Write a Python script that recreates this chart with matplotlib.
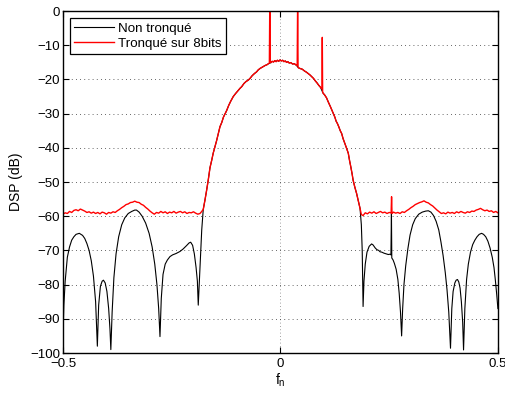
import numpy as np
import matplotlib
matplotlib.use("Agg")
import matplotlib.pyplot as plt

plt.rcParams['font.family'] = ['Liberation Sans', 'DejaVu Sans']
plt.rcParams['font.size'] = 9.5

# main lobe (common to both curves)
x_lobe = [-0.1775, -0.1736, -0.170, -0.166, -0.162, -0.158, -0.1545, -0.1506, -0.147, -0.143,
          -0.139, -0.135, -0.131, -0.1275, -0.1237, -0.119, -0.1145, -0.1085, -0.103, -0.097,
          -0.093, -0.089, -0.084, -0.079, -0.074, -0.070, -0.065, -0.060, -0.055, -0.051,
          -0.047, -0.043, -0.039, -0.035, -0.031, -0.0275, -0.022, -0.019, -0.016, -0.013,
          -0.010, -0.007, -0.004, -0.001, 0.002, 0.005, 0.008, 0.011, 0.014, 0.017,
          0.020, 0.024, 0.028, 0.032, 0.036, 0.0415, 0.045, 0.050, 0.055, 0.060,
          0.065, 0.068, 0.072, 0.076, 0.080, 0.084, 0.088, 0.092, 0.098, 0.102,
          0.106, 0.110, 0.115, 0.1214, 0.125, 0.128, 0.131, 0.134, 0.1375, 0.1407,
          0.144, 0.148, 0.152, 0.156, 0.159, 0.162, 0.165, 0.167, 0.171, 0.175,
          0.179, 0.183]
y_lobe = [-58.0, -55.3, -52.6, -49.4, -45.8, -43.6, -41.5, -39.7, -38.0, -35.9,
          -33.8, -32.6, -31.0, -30.1, -29.1, -27.6, -26.4, -25.0, -24.1, -23.2,
          -22.6, -22.1, -21.2, -20.6, -20.2, -19.7, -18.9, -18.3, -17.8, -17.2,
          -16.8, -16.5, -16.2, -15.9, -15.7, -15.4, -15.1, -14.7, -14.9, -14.5,
          -14.8, -14.4, -14.7, -14.3, -14.6, -14.4, -14.8, -14.6, -15.0, -14.8,
          -15.2, -15.1, -15.5, -15.4, -15.8, -16.6, -16.8, -17.0, -17.5, -17.9,
          -18.4, -18.7, -19.2, -19.7, -20.4, -21.0, -21.7, -22.3, -24.0, -24.6,
          -25.4, -26.6, -28.0, -29.9, -31.0, -32.2, -32.9, -33.8, -35.0, -35.8,
          -37.3, -38.7, -40.1, -41.6, -43.8, -45.7, -47.8, -49.4, -51.5, -53.3,
          -55.5, -57.7]

# sidelobes of the non truncated filter
x_left_nt = [-0.500, -0.498, -0.495, -0.490, -0.485, -0.480, -0.475, -0.470, -0.4625, -0.455,
             -0.450, -0.445, -0.440, -0.435, -0.430, -0.425, -0.421, -0.418, -0.414, -0.410,
             -0.407, -0.403, -0.399, -0.395, -0.392, -0.390, -0.387, -0.383, -0.378, -0.372,
             -0.365, -0.358, -0.350, -0.342, -0.335, -0.331, -0.325, -0.318, -0.310, -0.302,
             -0.295, -0.289, -0.284, -0.280, -0.277, -0.274, -0.270, -0.265, -0.260, -0.254,
             -0.248, -0.240, -0.231, -0.224, -0.216, -0.210, -0.2064, -0.202, -0.198, -0.194,
             -0.191, -0.189, -0.1845, -0.181]
y_left_nt = [-95.0, -86.0, -79.0, -72.0, -69.0, -67.0, -66.0, -65.3, -65.0, -65.6,
             -66.5, -68.0, -70.0, -73.0, -77.5, -85.0, -98.0, -86.0, -80.5, -79.0,
             -78.7, -79.5, -82.0, -87.0, -93.0, -99.0, -88.0, -78.0, -71.0, -66.0,
             -62.5, -60.5, -59.2, -58.6, -58.2, -58.2, -58.8, -60.0, -62.0, -65.0,
             -69.0, -74.0, -80.0, -87.0, -95.2, -84.0, -77.0, -74.0, -72.8, -71.8,
             -71.3, -70.9, -70.3, -69.6, -68.6, -67.8, -67.6, -68.5, -71.0, -75.0,
             -79.0, -86.0, -73.8, -64.0]
x_right_nt = [0.186, 0.188, 0.190, 0.192, 0.195, 0.199, 0.204, 0.2096, 0.213, 0.218,
              0.222, 0.226, 0.229, 0.233, 0.238, 0.243, 0.248, 0.2517, 0.254, 0.2552,
              0.2560, 0.259, 0.262, 0.266, 0.270, 0.273, 0.276, 0.2786, 0.281, 0.284,
              0.288, 0.293, 0.298, 0.304, 0.310, 0.318, 0.326, 0.334, 0.340, 0.346,
              0.352, 0.358, 0.364, 0.369, 0.374, 0.379, 0.383, 0.387, 0.391, 0.394,
              0.397, 0.401, 0.404, 0.407, 0.410, 0.413, 0.416, 0.419, 0.421, 0.424,
              0.428, 0.432, 0.437, 0.442, 0.447, 0.452, 0.457, 0.4625, 0.467, 0.472,
              0.477, 0.482, 0.487, 0.491, 0.494, 0.497, 0.500]
y_right_nt = [-62.5, -70.0, -86.4, -79.0, -74.0, -70.5, -68.8, -68.1, -68.4, -69.3,
              -69.8, -70.0, -70.4, -70.5, -70.8, -71.0, -71.2, -71.1, -71.3, -59.0,
              -72.2, -72.8, -73.8, -75.5, -78.5, -82.5, -88.0, -95.0, -87.0, -80.0,
              -74.5, -69.5, -65.5, -62.5, -60.7, -59.4, -58.8, -58.5, -58.4, -58.8,
              -59.8, -61.5, -64.0, -67.5, -71.5, -76.5, -81.5, -88.0, -98.6, -87.0,
              -82.0, -79.5, -78.7, -78.5, -79.2, -81.0, -85.0, -91.0, -99.1, -87.0,
              -78.5, -74.0, -70.5, -68.3, -67.0, -66.0, -65.3, -65.0, -65.3, -66.0,
              -67.3, -69.3, -72.0, -75.0, -78.5, -82.5, -87.0]

# quantisation noise floor of the 8 bit version
x_left_tr = [-0.500, -0.495, -0.490, -0.485, -0.480, -0.475, -0.470, -0.465, -0.460, -0.455,
             -0.450, -0.445, -0.440, -0.435, -0.430, -0.425, -0.420, -0.415, -0.410, -0.405,
             -0.400, -0.395, -0.390, -0.385, -0.380, -0.375, -0.370, -0.365, -0.360, -0.355,
             -0.350, -0.345, -0.340, -0.335, -0.330, -0.325, -0.320, -0.315, -0.310, -0.305,
             -0.300, -0.295, -0.290, -0.285, -0.280, -0.275, -0.270, -0.265, -0.260, -0.255,
             -0.250, -0.245, -0.240, -0.235, -0.230, -0.225, -0.220, -0.215, -0.210, -0.205,
             -0.200, -0.195, -0.190, -0.185, -0.181]
y_left_tr = [-59.4, -59.0, -59.2, -58.6, -58.9, -58.3, -58.1, -58.4, -57.9, -58.2,
             -58.5, -58.9, -58.7, -59.1, -58.8, -59.2, -58.9, -59.3, -58.8, -59.0,
             -59.4, -58.9, -59.1, -58.7, -58.9, -58.4, -58.0, -57.5, -57.1, -56.6,
             -56.4, -56.0, -55.9, -55.6, -55.9, -56.0, -56.5, -56.8, -57.4, -57.9,
             -58.5, -59.0, -59.4, -58.9, -59.1, -58.6, -59.0, -58.7, -59.2, -58.8,
             -59.0, -58.6, -59.1, -58.8, -58.6, -59.0, -58.7, -59.2, -58.9, -59.0,
             -58.7, -59.1, -59.4, -59.2, -58.6]
x_right_tr = [0.186, 0.190, 0.195, 0.200, 0.205, 0.210, 0.215, 0.220, 0.225, 0.230,
              0.235, 0.240, 0.245, 0.250, 0.2545, 0.2555, 0.2565, 0.260, 0.265, 0.270,
              0.275, 0.280, 0.285, 0.290, 0.295, 0.300, 0.305, 0.310, 0.315, 0.320,
              0.325, 0.330, 0.335, 0.340, 0.345, 0.350, 0.355, 0.360, 0.365, 0.370,
              0.375, 0.380, 0.385, 0.390, 0.395, 0.400, 0.405, 0.410, 0.415, 0.420,
              0.425, 0.430, 0.435, 0.440, 0.445, 0.450, 0.455, 0.460, 0.465, 0.470,
              0.475, 0.480, 0.485, 0.490, 0.495, 0.500]
y_right_tr = [-59.5, -59.8, -59.0, -59.3, -58.8, -59.1, -58.7, -59.2, -58.9, -58.6,
              -59.0, -58.8, -59.2, -58.9, -59.0, -54.3, -59.2, -58.8, -59.1, -58.9,
              -59.2, -58.7, -58.9, -58.4, -58.0, -57.5, -57.1, -56.6, -56.3, -56.0,
              -55.8, -55.5, -55.9, -56.1, -56.6, -57.0, -57.6, -58.2, -58.7, -59.2,
              -59.0, -59.3, -58.8, -59.1, -58.9, -59.2, -58.7, -59.0, -58.6, -58.9,
              -59.1, -58.7, -58.9, -58.5, -58.6, -58.2, -58.0, -57.7, -58.1, -58.4,
              -58.2, -58.6, -58.4, -58.9, -58.6, -59.0]

# spurious lines in the passband of the 8 bit version
x_spikes = [-0.0255, -0.0245, -0.0235, 0.0385, 0.0395, 0.0405, 0.0955, 0.0962, 0.0970]
y_spikes = [-15.2, 3.0, -14.9, -15.9, 3.0, -16.5, -22.8, -7.7, -23.8]


x_nt = np.concatenate([x_left_nt, x_lobe, x_right_nt])
y_nt = np.concatenate([y_left_nt, y_lobe, y_right_nt])

x_tr = np.concatenate([x_left_tr, x_lobe, x_spikes, x_right_tr])
y_tr = np.concatenate([y_left_tr, y_lobe, y_spikes, y_right_tr])
order = np.argsort(x_tr, kind="stable")
x_tr, y_tr = x_tr[order], y_tr[order]

fig = plt.figure(figsize=(5.06, 3.94), dpi=100)
ax = fig.add_axes([0.1245, 0.104, 0.8595, 0.868])

ax.plot(x_nt, y_nt, color="black", lw=0.8, label="Non tronqué")
ax.plot(x_tr, y_tr, color="red", lw=1.0, label="Tronqué sur 8bits")

ax.set_xlim(-0.5, 0.5)
ax.set_ylim(-100, 0)
ax.set_xticks([-0.5, 0, 0.5])
ax.set_xticklabels(["\u22120.5", "0", "0.5"])
ax.set_yticks(np.arange(-100, 1, 10))

ax.tick_params(direction="in", top=True, right=True, length=4, width=0.8, pad=2,
               labelsize=9.5)
ax.tick_params(axis="x", pad=3.5)
for sp in ax.spines.values():
    sp.set_linewidth(1.0)

ax.yaxis.grid(True, color="0.2", lw=0.6, linestyle=(0, (1, 4)))
ax.xaxis.grid(True, color="0.5", lw=0.6, linestyle=(0, (1, 3)))

ax.set_xlabel("f$_{\\mathregular{n}}$", labelpad=1, fontsize=10)
ax.set_ylabel("DSP (dB)", labelpad=5, fontsize=10)

leg = ax.legend(loc="upper left", fancybox=False, framealpha=1, edgecolor="black",
                handlelength=3.0, borderaxespad=0.5, borderpad=0.35,
                labelspacing=0.2, handletextpad=0.3, fontsize=9.6)
leg.get_frame().set_linewidth(0.9)

fig.savefig("out.png", dpi=100)
